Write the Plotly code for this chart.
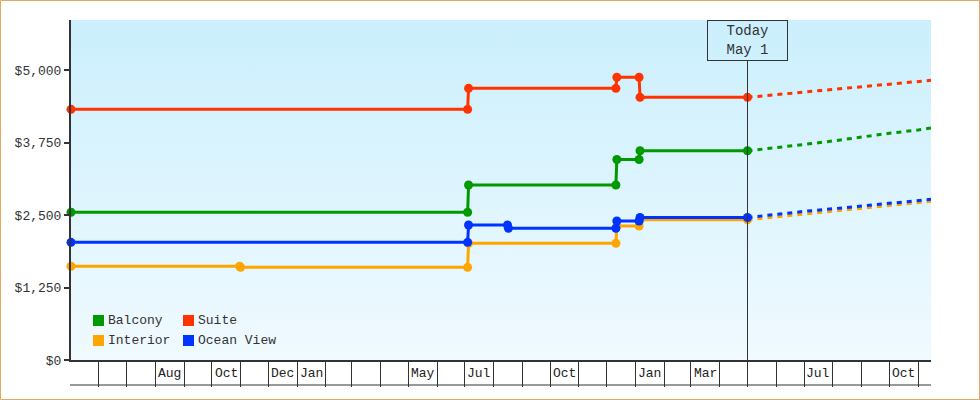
import base64
import pandas as pd
import plotly.graph_objects as go

# ---------------- data ----------------
SERIES_NAMES = ["Balcony", "Suite", "Interior", "Ocean View"]
SERIES_COLORS = ["#009900", "#ff3300", "#ffa500", "#0033ff"]

BALCONY_DATES = ["2022-05-02", "2023-07-04", "2023-07-05", "2023-12-11", "2023-12-12",
                 "2024-01-05", "2024-01-06", "2024-05-01"]
BALCONY_PRICES = [2547, 2547, 3017, 3017, 3457, 3457, 3607, 3607]

SUITE_DATES = ["2022-05-02", "2023-07-04", "2023-07-05", "2023-12-11", "2023-12-12",
               "2024-01-05", "2024-01-06", "2024-05-01"]
SUITE_PRICES = [4322, 4322, 4684, 4684, 4874, 4874, 4529, 4529]

INTERIOR_DATES = ["2022-05-02", "2022-10-31", "2022-11-01", "2023-07-04", "2023-07-05",
                  "2023-12-11", "2023-12-12", "2024-01-05", "2024-01-06", "2024-05-01"]
INTERIOR_PRICES = [1616, 1616, 1598, 1598, 2012, 2012, 2310, 2310, 2419, 2419]

OCEAN_DATES = ["2022-05-02", "2023-07-04", "2023-07-05", "2023-08-16", "2023-08-17",
               "2023-12-11", "2023-12-12", "2024-01-05", "2024-01-06", "2024-05-01"]
OCEAN_PRICES = [2029, 2029, 2328, 2328, 2271, 2271, 2397, 2397, 2457, 2457]

FORECAST_DATES = ["2024-05-01", "2024-06-01", "2024-07-01", "2024-08-01", "2024-09-01",
                  "2024-10-01", "2024-11-01", "2024-11-15"]
BALCONY_FORECAST = [3607, 3659, 3716, 3776, 3845, 3909, 3966, 4000]
SUITE_FORECAST = [4529, 4574, 4619, 4666, 4710, 4755, 4800, 4822]
INTERIOR_FORECAST = [2419, 2470, 2520, 2570, 2620, 2668, 2716, 2738]
OCEAN_FORECAST = [2457, 2514, 2562, 2607, 2655, 2702, 2750, 2770]

TODAY = "2024-05-01"
TODAY_LABEL = "Today<br>May 1"
X_RANGE = ["2022-05-02", "2024-11-15"]
MONTH_STARTS = pd.date_range("2022-05-01", "2024-12-01", freq="MS")
LABELED_MONTHS = ["2022-08", "2022-10", "2022-12", "2023-01", "2023-05", "2023-07",
                  "2023-10", "2024-01", "2024-03", "2024-07", "2024-10"]

Y_TICKS = [0, 1250, 2500, 3750, 5000]
Y_TICK_TEXT = ["$0", "$1,250", "$2,500", "$3,750", "$5,000"]
Y_RANGE = [0, 5862]

# ---------------- layout geometry ----------------
W, H = 980, 400
L, R, T, B = 71, 49, 20, 40
PW, PH = W - L - R, H - T - B
FONT = "Liberation Mono, DejaVu Sans Mono, monospace"
INK = "#333333"


def px_x(p):
    return (p - L) / PW


def px_y(p):
    return (H - B - p) / PH


fig = go.Figure()

hist = [(BALCONY_DATES, BALCONY_PRICES, BALCONY_FORECAST),
        (SUITE_DATES, SUITE_PRICES, SUITE_FORECAST),
        (INTERIOR_DATES, INTERIOR_PRICES, INTERIOR_FORECAST),
        (OCEAN_DATES, OCEAN_PRICES, OCEAN_FORECAST)]

order = [1, 0, 2, 3]
for i in order:
    d, p, f = hist[i]
    c = SERIES_COLORS[i]
    fig.add_trace(go.Scatter(x=FORECAST_DATES, y=f, mode="lines", name=SERIES_NAMES[i],
                             line=dict(color=c, width=3, dash="5px,5px"),
                             showlegend=False, hoverinfo="skip"))
    fig.add_trace(go.Scatter(x=d, y=p, mode="lines+markers", name=SERIES_NAMES[i],
                             line=dict(color=c, width=3),
                             marker=dict(color=c, size=9, symbol="circle"),
                             cliponaxis=False, showlegend=False))

svg = ('<svg xmlns="http://www.w3.org/2000/svg" width="100" height="100" preserveAspectRatio="none">'
       '<defs><linearGradient id="g" x1="0" y1="0" x2="0" y2="1">'
       '<stop offset="0" stop-color="#cbeffd"/><stop offset="1" stop-color="#f0faff"/>'
       '</linearGradient></defs><rect width="100" height="100" fill="url(#g)"/></svg>')
src = "data:image/svg+xml;base64," + base64.b64encode(svg.encode()).decode()

shapes = []
annotations = []

shapes.append(dict(type="line", xref="x", yref="paper", x0=TODAY, x1=TODAY,
                   y0=0, y1=px_y(60), line=dict(color=INK, width=1), layer="above"))
annotations.append(dict(x=TODAY, xref="x", y=1, yref="paper", yanchor="top", xanchor="center",
                        text=TODAY_LABEL, showarrow=False, align="center",
                        font=dict(family=FONT, size=14, color=INK),
                        bordercolor=INK, borderwidth=1, borderpad=2, width=75, height=35))

shapes.append(dict(type="line", xref="paper", yref="paper", x0=px_x(70), x1=1,
                   y0=px_y(385), y1=px_y(385), line=dict(color=INK, width=1)))

for m in LABELED_MONTHS:
    start = pd.Timestamp(m + "-01")
    end = start + pd.offsets.MonthBegin(1)
    mid = start + (end - start) / 2
    annotations.append(dict(x=mid, xref="x", y=px_y(373), yref="paper",
                            text=start.strftime("%b"), showarrow=False,
                            font=dict(family=FONT, size=13, color="#222222"),
                            xanchor="center", yanchor="middle"))

leg_pos = [(93, 315), (183, 315), (93, 335), (183, 335)]
for (lx, ly), name, col in zip(leg_pos, SERIES_NAMES, SERIES_COLORS):
    shapes.append(dict(type="rect", xref="paper", yref="paper",
                       x0=px_x(lx), x1=px_x(lx + 11), y0=px_y(ly + 11), y1=px_y(ly),
                       fillcolor=col, line=dict(width=0)))
    annotations.append(dict(x=px_x(lx + 13), y=px_y(ly + 5.5), xref="paper", yref="paper",
                            text=name, showarrow=False, xanchor="left", yanchor="middle",
                            font=dict(family=FONT, size=13, color=INK)))

shapes.append(dict(type="rect", xref="paper", yref="paper",
                   x0=px_x(0.5), x1=px_x(W - 0.5), y0=px_y(H - 0.5), y1=px_y(0.5),
                   line=dict(color="#e6a862", width=1), fillcolor="rgba(0,0,0,0)"))

fig.update_layout(
    width=W, height=H,
    margin=dict(l=L, r=R, t=T, b=B),
    paper_bgcolor="white", plot_bgcolor="rgba(0,0,0,0)",
    showlegend=False,
    font=dict(family=FONT, size=13, color=INK),
    images=[dict(source=src, xref="paper", yref="paper", x=0, y=1, sizex=1, sizey=1,
                 xanchor="left", yanchor="top", sizing="stretch", layer="below")],
    shapes=shapes, annotations=annotations,
    xaxis=dict(type="date", range=X_RANGE, showgrid=False, zeroline=False,
               showline=True, linecolor=INK, linewidth=2,
               tickvals=list(MONTH_STARTS), ticktext=[""] * len(MONTH_STARTS),
               ticks="outside", ticklen=25, tickwidth=1, tickcolor=INK,
               showticklabels=False),
    yaxis=dict(range=Y_RANGE, tickvals=Y_TICKS, ticktext=Y_TICK_TEXT, showgrid=False,
               zeroline=False, showline=True, linecolor=INK, linewidth=2,
               ticks="outside", ticklen=5, tickwidth=2, tickcolor=INK,
               tickfont=dict(family=FONT, size=13, color=INK)),
)

fig.write_html("out.html", config={"displayModeBar": False},
               post_script="document.body.style.margin='0';document.body.style.overflow='hidden';")
